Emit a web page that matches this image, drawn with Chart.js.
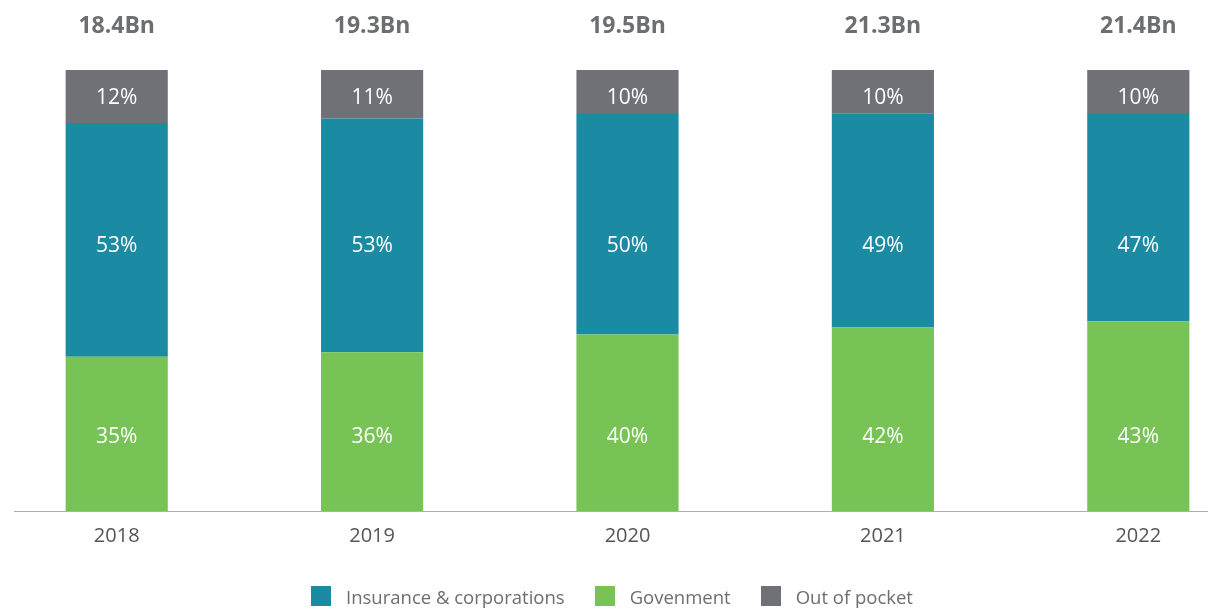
<!DOCTYPE html>
<html>
<head>
<meta charset="utf-8">
<script src="https://cdn.jsdelivr.net/npm/chart.js@4"></script>
<style>
  html, body { margin: 0; padding: 0; background: #fff; overflow: hidden; }
  /* canvas is a bit wider than the window so the 5 categories line up with the reference */
  #wrap { position: absolute; left: -11px; top: 0; width: 1277px; height: 614px; }
  #legend {
    position: absolute; left: 0; width: 1224px; top: 586px; height: 20px;
    display: flex; justify-content: center; align-items: center; gap: 30px;
    font-family: "Open Sans", "Noto Sans", sans-serif; font-size: 18.5px; color: #6d6e71;
  }
  #legend .item { display: flex; align-items: center; gap: 15px; white-space: nowrap; }
  #legend .box { width: 20px; height: 20px; }
</style>
</head>
<body>
<div id="wrap"><canvas id="chart"></canvas></div>
<div id="legend"></div>
<script>
const YEARS = ['2018', '2019', '2020', '2021', '2022'];
const TOTALS = ['18.4Bn', '19.3Bn', '19.5Bn', '21.3Bn', '21.4Bn'];
const GOVERNMENT = [35, 36, 40, 42, 43];
const INSURANCE = [53, 53, 50, 49, 47];
const OUT_OF_POCKET = [12, 11, 10, 10, 10];

const FONT = '"Open Sans", "Noto Sans", sans-serif';
const TEXT_GREY = '#6d6e71';

// shares of the bar (labels can add up to 101, so scale to 100)
const sums = YEARS.map((_, i) => GOVERNMENT[i] + INSURANCE[i] + OUT_OF_POCKET[i]);
const share = arr => arr.map((v, i) => v / sums[i] * 100);

// ===== Labels inside bars, totals on top, baseline =====
const barLabels = {
  id: 'barLabels',
  afterDatasetsDraw(chart, args, opts) {
    const { ctx, chartArea, scales: { y } } = chart;
    ctx.save();
    ctx.textAlign = 'center';
    ctx.textBaseline = 'middle';

    ctx.font = '21px ' + FONT;
    ctx.fillStyle = '#ffffff';
    chart.data.datasets.forEach((ds, di) => {
      chart.getDatasetMeta(di).data.forEach((bar, i) => {
        ctx.fillText(ds.raw[i] + '%', bar.x, y.getPixelForValue(opts.levels[di]));
      });
    });

    ctx.font = 'bold 23px ' + FONT;
    ctx.fillStyle = TEXT_GREY;
    chart.getDatasetMeta(0).data.forEach((bar, i) => {
      ctx.fillText(TOTALS[i], bar.x, chartArea.top - 44);
    });

    ctx.strokeStyle = '#aeaeb0';
    ctx.lineWidth = 1;
    ctx.beginPath();
    ctx.moveTo(25, chartArea.bottom + 0.5);
    ctx.lineTo(chart.width, chartArea.bottom + 0.5);
    ctx.stroke();
    ctx.restore();
  }
};

const legendRank = [1, 0, 2];

const chart = new Chart(document.getElementById('chart'), {
  type: 'bar',
  data: {
    labels: YEARS,
    datasets: [
      { label: 'Govenment', data: share(GOVERNMENT), raw: GOVERNMENT, backgroundColor: '#78c356' },
      { label: 'Insurance & corporations', data: share(INSURANCE), raw: INSURANCE, backgroundColor: '#1b8aa3' },
      { label: 'Out of pocket', data: share(OUT_OF_POCKET), raw: OUT_OF_POCKET, backgroundColor: '#707176' }
    ]
  },
  options: {
    responsive: true,
    maintainAspectRatio: false,
    animation: false,
    layout: { padding: { top: 70, left: 0, right: 0, bottom: 0 } },
    datasets: { bar: { categoryPercentage: 1, barPercentage: 0.4, borderWidth: 0 } },
    scales: {
      x: {
        stacked: true,
        grid: { display: false },
        border: { display: false },
        ticks: { color: '#555', font: { family: FONT, size: 20 }, padding: 5 },
        afterFit: s => { s.height = 103; }
      },
      y: { stacked: true, min: 0, max: 100, display: false }
    },
    plugins: {
      tooltip: { enabled: false },
      legend: { display: false },
      barLabels: { levels: [16.75, 60.05, 93.65] }
    }
  },
  plugins: [barLabels]
});

// ===== Legend (HTML, in the reference's order) =====
const order = chart.data.datasets.map((ds, i) => i).sort((a, b) => legendRank[a] - legendRank[b]);
document.getElementById('legend').innerHTML = order.map(i => {
  const ds = chart.data.datasets[i];
  return `<div class="item"><div class="box" style="background:${ds.backgroundColor}"></div><span>${ds.label}</span></div>`;
}).join('');
</script>
</body>
</html>
